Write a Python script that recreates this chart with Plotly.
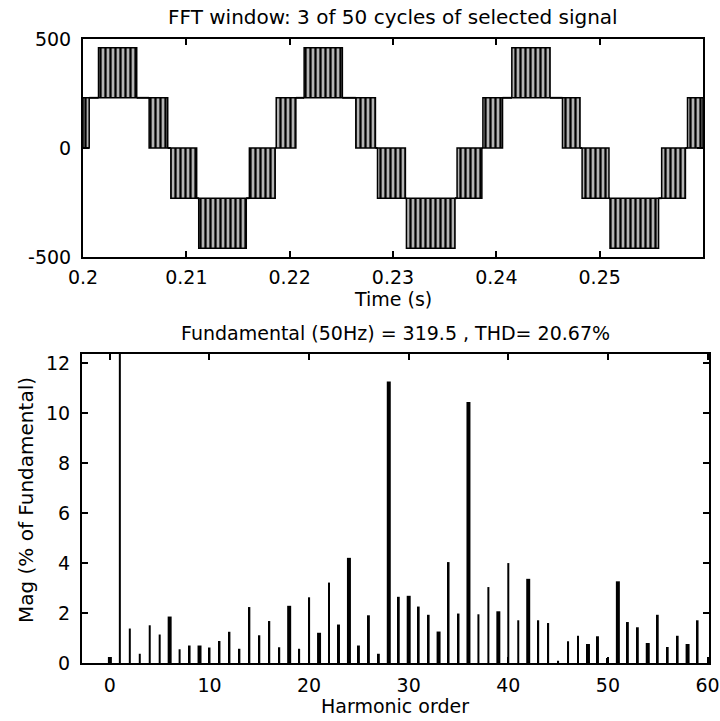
import plotly.graph_objects as go

# ---- top plot: 5-level PWM waveform, read as segments (start, end, low, high) ----
seg_start = [0.2000, 0.2006, 0.2015, 0.2052, 0.2064, 0.2082, 0.2085, 0.2110, 0.2112, 0.2158,
             0.2161, 0.2186, 0.2187, 0.2206, 0.2214, 0.2251, 0.2264, 0.2283, 0.2285, 0.2312,
             0.2313, 0.2360, 0.2362, 0.2386, 0.2387, 0.2406, 0.2415, 0.2452, 0.2464, 0.2481,
             0.2483, 0.2509, 0.2510, 0.2557, 0.2560, 0.2583, 0.2585]
seg_end = [0.2006, 0.2015, 0.2052, 0.2064, 0.2082, 0.2085, 0.2110, 0.2112, 0.2158, 0.2161,
           0.2186, 0.2187, 0.2206, 0.2214, 0.2251, 0.2264, 0.2283, 0.2285, 0.2312, 0.2313,
           0.2360, 0.2362, 0.2386, 0.2387, 0.2406, 0.2415, 0.2452, 0.2464, 0.2481, 0.2483,
           0.2509, 0.2510, 0.2557, 0.2560, 0.2583, 0.2585, 0.2600]
seg_low = [0, 230, 230, 230, 0, 0, -230, -230, -460, -230,
           -230, 0, 0, 230, 230, 230, 0, 0, -230, -230,
           -460, -230, -230, 0, 0, 230, 230, 230, 0, 0,
           -230, -230, -460, -230, -230, 0, 0]
seg_high = [230, 230, 460, 230, 230, 0, 0, -230, -230, -230,
            0, 0, 230, 230, 460, 230, 230, 0, 0, -230,
            -230, -230, 0, 0, 230, 230, 460, 230, 230, 0,
            0, -230, -230, -230, 0, 0, 230]

time_ticks = [0.2, 0.21, 0.22, 0.23, 0.24, 0.25]
volt_ticks = [-500, 0, 500]
volt_labels = ['-500', '0', '500']

# ---- bottom plot: harmonic spectrum (% of fundamental) ----
harm = list(range(0, 60))
mag = [0.24, 100, 1.38, 0.37, 1.51, 1.14, 1.86, 0.55, 0.70, 0.70,
       0.62, 0.88, 1.25, 0.57, 2.24, 1.11, 1.68, 0.63, 2.29, 0.57,
       2.63, 1.21, 3.22, 1.54, 4.21, 0.70, 1.91, 0.37, 11.27, 2.65,
       2.69, 2.26, 1.93, 1.26, 4.04, 1.98, 10.45, 1.95, 3.04, 2.07,
       4.00, 1.71, 3.37, 1.71, 1.60, 0.09, 0.87, 1.09, 0.76, 1.07,
       0.20, 3.27, 1.64, 1.43, 0.80, 1.93, 0.64, 1.09, 0.76, 1.71]
thick = [0, 6, 9, 18, 21, 24, 28, 30, 33, 36, 39, 42, 48, 51, 54, 58]

harm_ticks = [0, 10, 20, 30, 40, 50, 60]
mag_ticks = [0, 2, 4, 6, 8, 10, 12]

FONT = 'DejaVu Sans'
W, H = 720, 721

def px(x):
    return x / W

def py(y):
    return 1 - y / H

fig = go.Figure()

# PWM bands as bars, flat levels as lines
bx, bw, bb, bh = [], [], [], []
lx, ly = [], []
for s, e, lo, hi in zip(seg_start, seg_end, seg_low, seg_high):
    if lo != hi:
        bx.append((s + e) / 2)
        bw.append(e - s)
        bb.append(lo)
        bh.append(hi - lo)
    else:
        lx += [s, e, None]
        ly += [lo, lo, None]

fig.add_trace(go.Bar(
    x=bx, y=bh, base=bb, width=bw, xaxis='x', yaxis='y',
    marker=dict(color='#a9a9a9', line=dict(color='black', width=1.5),
                pattern=dict(shape='|', fgcolor='black', bgcolor='#b4b4b4',
                             size=5, solidity=0.45)),
    showlegend=False, hoverinfo='skip'))
fig.add_trace(go.Scatter(
    x=lx, y=ly, mode='lines', xaxis='x', yaxis='y',
    line=dict(color='black', width=2), showlegend=False))

bar_w = [0.4 if h in thick else 0.2 for h in harm]
fig.add_trace(go.Bar(
    x=harm, y=mag, width=bar_w, xaxis='x2', yaxis='y2',
    marker=dict(color='black', line=dict(width=0)), showlegend=False))

ax = dict(showline=True, mirror='allticks', linecolor='black', linewidth=2,
          ticks='inside', ticklen=6, tickwidth=1.5, tickcolor='black',
          showgrid=False, zeroline=False,
          tickfont=dict(family=FONT, size=19, color='black'))

fig.update_layout(
    width=W, height=H, template='none',
    paper_bgcolor='white', plot_bgcolor='white',
    margin=dict(l=0, r=0, t=0, b=0),
    barmode='overlay', showlegend=False,
    xaxis=dict(ax, domain=[px(83), px(703)], range=[0.2, 0.26], anchor='y',
               tickvals=time_ticks, ticklabelstandoff=2),
    yaxis=dict(ax, domain=[py(257), py(39)], range=[-500, 500], anchor='x',
               tickvals=volt_ticks, ticktext=volt_labels, ticklabelstandoff=6),
    xaxis2=dict(ax, domain=[px(82), px(709)], range=[-2.8, 60.15], anchor='y2',
                tickvals=harm_ticks, ticklabelstandoff=4),
    yaxis2=dict(ax, domain=[py(663), py(354)], range=[0, 12.37], anchor='x2',
                tickvals=mag_ticks, ticklabelstandoff=6),
)

def label(text, x, y, size, angle=0):
    fig.add_annotation(text=text, x=px(x), y=py(y), xref='paper', yref='paper',
                       xanchor='center', yanchor='middle',
                       showarrow=False, textangle=angle,
                       font=dict(family=FONT, size=size, color='black'))

label('FFT window: 3 of 50 cycles of selected signal', 393, 17, 20)
label('Time (s)', 393, 299, 19)
label('Fundamental (50Hz) = 319.5 , THD= 20.67%', 395, 333, 19)
label('Harmonic order', 395, 706, 19)
label('Mag (% of Fundamental)', 26, 500, 20, -90)

fig.write_html('out.html', config={'displayModeBar': False},
               post_script="document.body.style.margin = '0';")
